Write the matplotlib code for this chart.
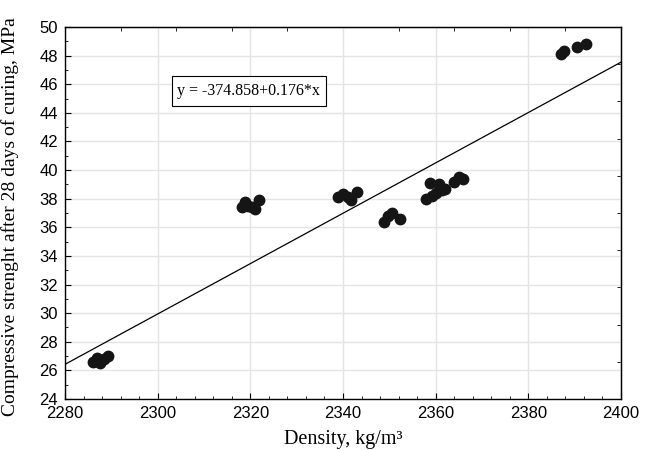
import matplotlib
matplotlib.use("Agg")
import matplotlib.pyplot as plt
from matplotlib.ticker import MultipleLocator, FixedLocator, NullFormatter
from matplotlib.patches import Rectangle
import numpy as np

density = [2286.0, 2287.0, 2287.6, 2288.5, 2289.2,
           2318.2, 2318.8, 2319.6, 2320.4, 2321.0, 2321.8,
           2339.0, 2340.0, 2341.0, 2341.8, 2343.0,
           2348.8, 2349.8, 2350.6, 2352.4,
           2358.0, 2358.7, 2359.3, 2360.0, 2360.8, 2361.3, 2362.0, 2364.0, 2365.0, 2365.8,
           2387.0, 2387.8, 2390.6, 2392.4]
strength = [26.6, 26.9, 26.5, 26.8, 27.0,
            37.4, 37.8, 37.5, 37.4, 37.3, 37.9,
            38.1, 38.3, 38.1, 37.9, 38.5,
            36.4, 36.8, 37.0, 36.6,
            38.0, 39.1, 38.2, 38.4, 39.0, 38.6, 38.7, 39.2, 39.5, 39.4,
            48.1, 48.3, 48.6, 48.8]
intercept = -374.858
slope = 0.176
equation = "y = -374.858+0.176*x"
xlabel = "Density, kg/m³"
ylabel = "Compressive strenght after 28 days of curing, MPa"

W, H = 651, 450
L, R, T, B = 65, 621, 27, 399
fig = plt.figure(figsize=(W/100, H/100), dpi=100)
ax = fig.add_axes([L/W, 1-B/H, (R-L)/W, (B-T)/H])

xs = np.array([2280, 2400])
ax.plot(xs, intercept + slope*xs, color="black", lw=0.9, zorder=2)
ax.plot(density, strength, "o", color="#151515", markersize=7.5, zorder=3)

ax.set_xlim(2280, 2400)
ax.set_ylim(24, 50)
ax.xaxis.set_major_locator(MultipleLocator(20))
ax.xaxis.set_minor_locator(MultipleLocator(4))
ax.yaxis.set_major_locator(MultipleLocator(2))
ax.yaxis.set_minor_locator(MultipleLocator(1))
ax.grid(True, which="major", color="#e4e4e4", lw=1.0, zorder=0)
ax.set_axisbelow(True)
ax.tick_params(which="both", direction="in", color="black")
ax.tick_params(which="major", length=4, width=0.8, pad=5)
ax.tick_params(which="minor", length=2.5, width=0.6)
for lab in ax.get_xticklabels() + ax.get_yticklabels():
    lab.set_fontfamily("Liberation Sans")
    lab.set_fontsize(12)
for s in ax.spines.values():
    s.set_linewidth(1.0)

top = ax.secondary_xaxis("top")
top.xaxis.set_major_locator(MultipleLocator(12))
top.xaxis.set_major_formatter(NullFormatter())
top.tick_params(direction="in", length=3, width=0.6)
right = ax.secondary_yaxis("right")
right.yaxis.set_major_locator(FixedLocator(np.linspace(24, 50, 11)))
right.yaxis.set_major_formatter(NullFormatter())
right.tick_params(direction="in", length=3, width=0.6)

ax.set_xlabel(xlabel, fontfamily="Liberation Serif", fontsize=14.5)
ax.set_ylabel(ylabel, fontfamily="Liberation Serif", fontsize=14)
ax.xaxis.set_label_coords(0.5, -0.083)
ax.yaxis.set_label_coords(-0.082, 0.49)

ax.add_patch(Rectangle((2303.0, 44.45), 33.3, 2.15, fc="white", ec="black", lw=0.8, zorder=4))
ax.text(2319.65, 45.5, equation, fontfamily="Liberation Serif", fontsize=11.5,
        va="center", ha="center", zorder=5)

fig.savefig("out.png", dpi=100)
